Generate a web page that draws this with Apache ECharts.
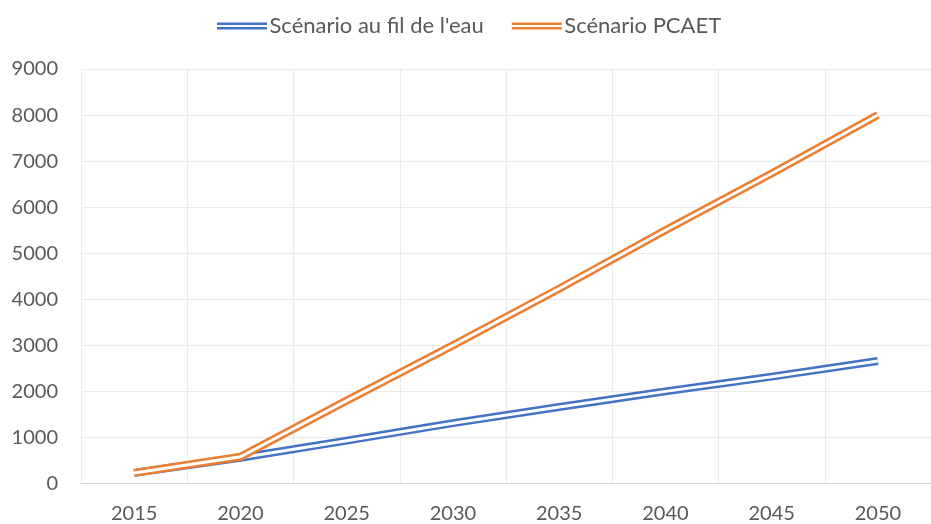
<!DOCTYPE html>
<html>
<head>
<meta charset="utf-8">
<script src="https://cdn.jsdelivr.net/npm/echarts@6/dist/echarts.min.js"></script>
<style>
  html, body { margin: 0; padding: 0; background: #ffffff; }
  #chart { width: 931px; height: 524px; }
</style>
</head>
<body>
<div id="chart"></div>
<script>
// Années du scénario
const years = ['2015', '2020', '2025', '2030', '2035', '2040', '2045', '2050'];
// Scénario au fil de l'eau
const filDeLEau = [230, 560, 930, 1310, 1660, 2000, 2320, 2660];
// Scénario PCAET
const pcaet = [230, 580, 1800, 3000, 4230, 5500, 6730, 8000];

const nameFil = "Scénario au fil de l'eau";
const namePcaet = 'Scénario PCAET';
const blue = '#4472c4';
const orange = '#ed7d31';
const textColor = '#595959';
const font = 'Lato, "Open Sans", sans-serif';

// double-trait : un trait épais coloré recouvert d'un trait blanc plus fin
function doubleLine(name, data, color, z) {
  return [
    {
      name: name, type: 'line', data: data, z: z,
      symbol: 'none', smooth: false,
      itemStyle: { color: color },
      lineStyle: { color: color, width: 8, cap: 'butt', join: 'miter' },
      emphasis: { disabled: true }
    },
    {
      name: name + ' ', type: 'line', data: data, z: z + 1,
      symbol: 'none', smooth: false, silent: true,
      itemStyle: { color: '#ffffff' },
      lineStyle: { color: '#ffffff', width: 3, cap: 'butt', join: 'miter' },
      emphasis: { disabled: true }
    }
  ];
}

const chart = echarts.init(document.getElementById('chart'), null, { renderer: 'canvas' });
chart.setOption({
  animation: false,
  backgroundColor: '#ffffff',
  legend: {
    data: [nameFil, namePcaet],
    top: 15,
    left: 217,
    padding: 0,
    itemWidth: 51,
    itemHeight: 7,
    itemGap: 28,
    icon: 'path://M0,0H50V2.5H0ZM0,4.5H50V7H0Z',
    itemStyle: { borderWidth: 0 },
    textStyle: { color: textColor, fontFamily: font, fontSize: 22, padding: [0, 0, 0, -3] }
  },
  grid: { left: 81, right: -13, top: 69, bottom: 40.5, containLabel: false },
  xAxis: {
    type: 'category',
    data: years,
    boundaryGap: true,
    axisTick: { show: false },
    axisLine: { show: true, lineStyle: { color: '#d9d9d9', width: 1 } },
    splitLine: { show: true, interval: 0, lineStyle: { color: '#ebebeb', width: 1 } },
    axisLabel: { color: textColor, fontFamily: font, fontSize: 20, margin: 20, interval: 0 }
  },
  yAxis: {
    type: 'value',
    min: 0, max: 9000, interval: 1000,
    axisLine: { show: false },
    axisTick: { show: false },
    splitLine: { show: true, lineStyle: { color: '#ebebeb', width: 1 } },
    axisLabel: {
      color: textColor, fontFamily: font, fontSize: 20, margin: 23,
      formatter: function (v) { return String(v); }
    }
  },
  series: [].concat(
    doubleLine(nameFil, filDeLEau, blue, 2),
    doubleLine(namePcaet, pcaet, orange, 4)
  )
});
</script>
</body>
</html>
